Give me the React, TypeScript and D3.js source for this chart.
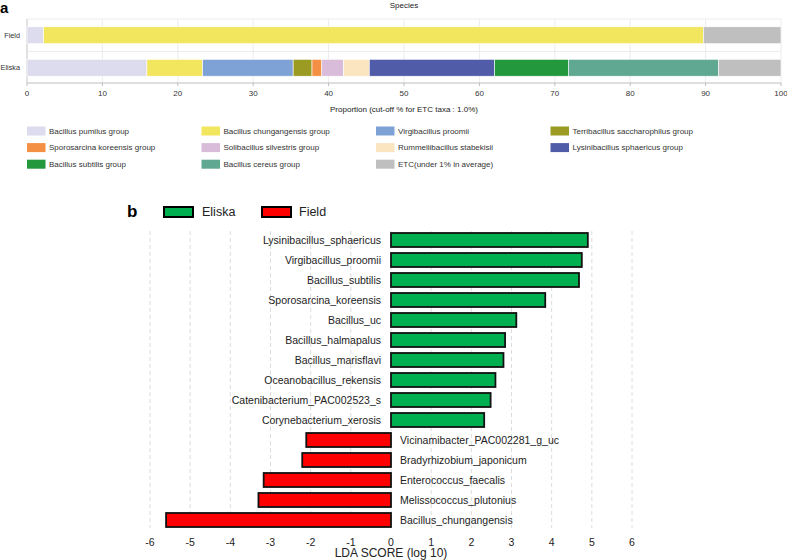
import React from 'react';
import * as d3 from 'd3';

// panel a: stacked proportions
const taxa = [
  'Bacillus pumilus group',
  'Bacillus chungangensis group',
  'Virgibacillus proomii',
  'Terribacillus saccharophilus group',
  'Sporosarcina koreensis group',
  'Solibacillus silvestris group',
  'Rummeliibacillus stabekisii',
  'Lysinibacillus sphaericus group',
  'Bacillus subtilis group',
  'Bacillus cereus group',
  'ETC(under 1% in average)',
];
const taxaColors = [
  '#dcdcee', '#f2e65e', '#7fa2d6', '#9b9a22', '#f39043', '#d8bcda',
  '#fbe5c0', '#505ca8', '#24983c', '#60a892', '#bfbfbf',
];
const samples = ['Field', 'Eliska'];
const fieldValues = [2.2, 87.5, 0, 0, 0, 0, 0, 0, 0, 0, 10.3];
const eliskaValues = [15.9, 7.4, 12.0, 2.5, 1.3, 2.9, 3.4, 16.6, 9.8, 19.9, 8.3];
const propTicks = [0, 10, 20, 30, 40, 50, 60, 70, 80, 90, 100];

// panel b: LEfSe LDA scores
const ldaNames = [
  'Lysinibacillus_sphaericus',
  'Virgibacillus_proomii',
  'Bacillus_subtilis',
  'Sporosarcina_koreensis',
  'Bacillus_uc',
  'Bacillus_halmapalus',
  'Bacillus_marisflavi',
  'Oceanobacillus_rekensis',
  'Catenibacterium_PAC002523_s',
  'Corynebacterium_xerosis',
  'Vicinamibacter_PAC002281_g_uc',
  'Bradyrhizobium_japonicum',
  'Enterococcus_faecalis',
  'Melissococcus_plutonius',
  'Bacillus_chungangensis',
];
const ldaScores = [4.9, 4.75, 4.68, 3.84, 3.12, 2.84, 2.8, 2.6, 2.48, 2.32, -2.11, -2.21, -3.17, -3.3, -5.6];
const ldaTicks = [-6, -5, -4, -3, -2, -1, 0, 1, 2, 3, 4, 5, 6];

const FONT = 'Liberation Sans, Arial, Helvetica, sans-serif';

function App() {
  const xa = d3.scaleLinear().domain([0, 100]).range([27, 781]);
  const ya = d3.scaleBand().domain(samples).range([19, 84]).paddingInner(0.48).paddingOuter(0.24);
  const rowsA = [
    { name: 'Field', values: fieldValues },
    { name: 'Eliska', values: eliskaValues },
  ];

  const xb = d3.scaleLinear().domain([-6, 6]).range([150, 632]);
  const yb = d3.scaleBand().domain(ldaNames).range([230, 530]).paddingInner(0.3).paddingOuter(0.15);

  return (
    <svg width={787} height={560} style={{ position: 'absolute', left: 0, top: 0, background: '#fff' }} fontFamily={FONT}>
      {/* ---- panel a ---- */}
      <text x={0} y={13} fontSize={15} fontWeight="bold">a</text>
      <text x={404} y={8} fontSize={8} textAnchor="middle" fill="#222">Species</text>
      {propTicks.map(t => (
        <line key={t} x1={xa(t)} x2={xa(t)} y1={19} y2={83} stroke="#ececec" strokeWidth={1} />
      ))}
      {[19, 19 + ya.step()].map(y => (
        <line key={y} x1={27} x2={781} y1={y} y2={y} stroke="#ececec" strokeWidth={1} />
      ))}
      <line x1={27} x2={27} y1={19} y2={83} stroke="#cfcfcf" />
      <line x1={27} x2={781} y1={83} y2={83} stroke="#bdbdbd" />
      {rowsA.map(r => {
        const ends = Array.from(d3.cumsum(r.values));
        return (
          <g key={r.name}>
            {r.values.map((v, i) => v > 0 && (
              <rect key={i} x={xa(ends[i] - v)} width={xa(ends[i]) - xa(ends[i] - v)}
                y={ya(r.name)} height={ya.bandwidth()} fill={taxaColors[i]} stroke="#fff" strokeWidth={0.6} />
            ))}
            <text x={20} y={(ya(r.name) as number) + ya.bandwidth() / 2} dy="0.35em" fontSize={7.3} textAnchor="end" fill="#333">{r.name}</text>
          </g>
        );
      })}
      {propTicks.map(t => (
        <g key={t}>
          <line x1={xa(t)} x2={xa(t)} y1={83} y2={86} stroke="#bdbdbd" />
          <text x={xa(t)} y={96} fontSize={8} textAnchor="middle" fill="#333">{t}</text>
        </g>
      ))}
      <text x={404} y={112} fontSize={8} textAnchor="middle" fill="#222">Proportion (cut-off % for ETC taxa : 1.0%)</text>
      {taxa.map((name, i) => {
        const col = i % 4;
        const row = Math.floor(i / 4);
        const x = 27 + col * 174.5;
        const y = 131 + row * 16.6;
        return (
          <g key={name}>
            <rect x={x} y={y - 4.5} width={18.5} height={9} fill={taxaColors[i]} />
            <text x={x + 22} y={y} dy="0.35em" fontSize={8} fill="#333">{name}</text>
          </g>
        );
      })}

      {/* ---- panel b ---- */}
      <text x={127} y={217} fontSize={17} fontWeight="bold">b</text>
      <rect x={164} y={207} width={29} height={10} fill="#00b050" stroke="#000" strokeWidth={2} />
      <text x={202} y={212} dy="0.35em" fontSize={12.5} fill="#222">Eliska</text>
      <rect x={262} y={207} width={29} height={10} fill="#ff0000" stroke="#000" strokeWidth={2} />
      <text x={299} y={212} dy="0.35em" fontSize={12.5} fill="#222">Field</text>
      {ldaTicks.map(t => (
        <line key={t} x1={xb(t)} x2={xb(t)} y1={231} y2={528} stroke="#dcdcdc" strokeDasharray="4,3" />
      ))}
      {ldaNames.map((n, i) => {
        const v = ldaScores[i];
        const y0 = yb(n) as number;
        const pos = v >= 0;
        return (
          <g key={n}>
            <rect x={xb(Math.min(0, v))} width={Math.abs(xb(v) - xb(0))} y={y0} height={yb.bandwidth()}
              fill={pos ? '#00b050' : '#ff0000'} stroke="#111" strokeWidth={1.8} />
            <text x={pos ? xb(0) - 10 : xb(0) + 9} y={y0 + yb.bandwidth() / 2} dy="0.35em" fontSize={10.5}
              textAnchor={pos ? 'end' : 'start'} fill="#222">{n}</text>
          </g>
        );
      })}
      {ldaTicks.map(t => (
        <text key={t} x={xb(t)} y={542} dy="0.35em" fontSize={10.5} textAnchor="middle" fill="#222">{t}</text>
      ))}
      <text x={xb(0)} y={553} dy="0.35em" fontSize={12} textAnchor="middle" fill="#222">LDA SCORE (log 10)</text>
    </svg>
  );
}

export default App;
